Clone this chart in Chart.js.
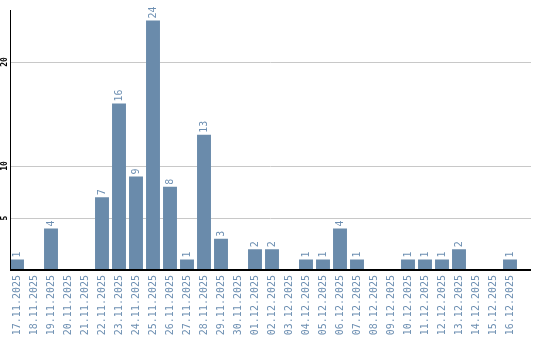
<!DOCTYPE html>
<html><head><meta charset="utf-8">
<script src="https://cdn.jsdelivr.net/npm/chart.js@4/dist/chart.umd.min.js"></script>
<style>html,body{margin:0;padding:0;background:#fff}canvas{display:block}</style>
</head><body>
<canvas id="c" width="540" height="340"></canvas>
<script>
const categories = ["17.11.2025","18.11.2025","19.11.2025","20.11.2025","21.11.2025","22.11.2025","23.11.2025","24.11.2025","25.11.2025","26.11.2025","27.11.2025","28.11.2025","29.11.2025","30.11.2025","01.12.2025","02.12.2025","03.12.2025","04.12.2025","05.12.2025","06.12.2025","07.12.2025","08.12.2025","09.12.2025","10.12.2025","11.12.2025","12.12.2025","13.12.2025","14.12.2025","15.12.2025","16.12.2025"];
const values = [1,0,4,0,0,7,16,9,24,8,1,13,3,0,2,2,0,1,1,4,1,0,0,1,1,1,2,0,0,1];
const yTicks = [5,10,20];

const MONO = '"DejaVu Sans Mono", "Liberation Mono", monospace';
const BLUE = '#6a8bab';
const LABEL = '#6d8fb2';
const AXIS_X = 10, LINE_END = 531;

const overlay = {
  id:'overlay',
  beforeDatasetsDraw(chart){
    const ctx = chart.ctx, ys = chart.scales.y;
    ctx.save();
    ctx.strokeStyle = '#c8c8c8'; ctx.lineWidth = 1;
    yTicks.forEach(t=>{
      const y = Math.round(ys.getPixelForValue(t)) + 0.5;
      ctx.beginPath(); ctx.moveTo(AXIS_X, y); ctx.lineTo(LINE_END, y); ctx.stroke();
    });
    ctx.restore();
  },
  afterDatasetsDraw(chart){
    const ctx = chart.ctx, ys = chart.scales.y, ca = chart.chartArea;
    const meta = chart.getDatasetMeta(0);
    ctx.save();
    ctx.strokeStyle = '#000';
    ctx.lineWidth = 1;
    ctx.beginPath(); ctx.moveTo(AXIS_X + 0.5, ca.top); ctx.lineTo(AXIS_X + 0.5, ys.getPixelForValue(0)); ctx.stroke();
    ctx.lineWidth = 2;
    const y0 = Math.round(ys.getPixelForValue(0));
    ctx.beginPath(); ctx.moveTo(AXIS_X, y0); ctx.lineTo(LINE_END, y0); ctx.stroke();
    ctx.fillStyle = LABEL;
    ctx.font = '10px ' + MONO;
    meta.data.forEach((bar,i)=>{
      const v = values[i];
      if(!v) return;
      ctx.save();
      ctx.translate(bar.x, bar.y - 2);
      ctx.rotate(-Math.PI/2);
      ctx.textAlign='left'; ctx.textBaseline='middle';
      ctx.fillText(String(v),0,0);
      ctx.restore();
    });
    ctx.fillStyle = '#000';
    ctx.font = 'bold 8px ' + MONO;
    yTicks.forEach(t=>{
      ctx.save();
      ctx.translate(5, ys.getPixelForValue(t));
      ctx.rotate(-Math.PI/2);
      ctx.textAlign='center'; ctx.textBaseline='middle';
      ctx.fillText(String(t),0,0);
      ctx.restore();
    });
    ctx.restore();
  }
};

new Chart(document.getElementById('c'),{
  type:'bar',
  data:{labels:categories,datasets:[{data:values,backgroundColor:BLUE,borderWidth:0,barPercentage:0.82,categoryPercentage:1}]},
  options:{
    responsive:false,animation:false,
    layout:{padding:{left:0,right:21.5,top:10,bottom:0}},
    plugins:{legend:{display:false},tooltip:{enabled:false}},
    scales:{
      x:{
        grid:{display:false,drawTicks:false},
        border:{display:false},
        ticks:{autoSkip:false,minRotation:90,maxRotation:90,padding:5,color:LABEL,font:{family:MONO,size:10}},
        afterFit(s){s.height=70;}
      },
      y:{
        min:0,max:25,
        grid:{display:false,drawTicks:false},
        border:{display:false},
        ticks:{display:false},
        afterFit(s){s.width=8.5;}
      }
    }
  },
  plugins:[overlay]
});
</script>
</body></html>
